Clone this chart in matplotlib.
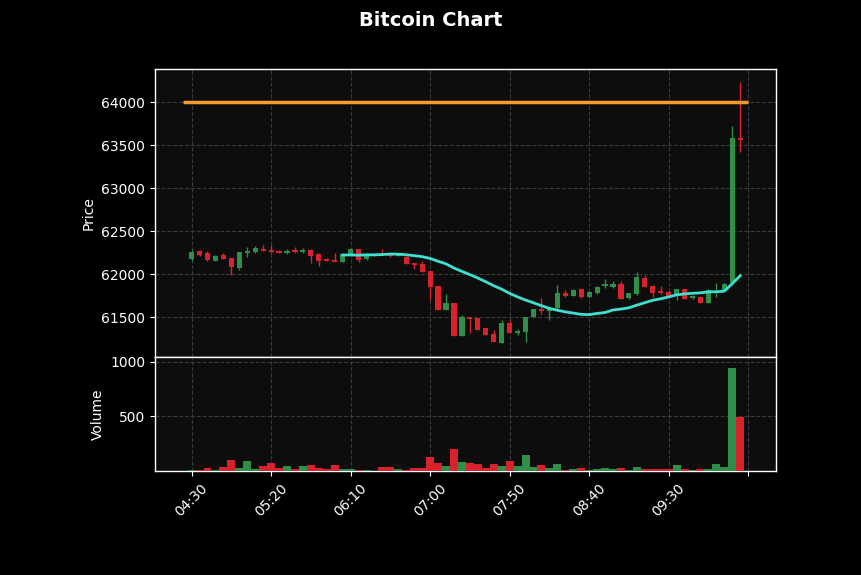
import numpy as np
import pandas as pd
import matplotlib
matplotlib.use("Agg")
import matplotlib.pyplot as plt

# ---- data ----
start_time = "2024-01-01 04:30"
opens = [62171, 62267, 62241, 62155, 62221, 62183, 62075, 62240, 62259, 62290,
         62280, 62267, 62250, 62275, 62260, 62280, 62233, 62178, 62163, 62143,
         62233, 62287, 62171, 62215, 62245, 62245, 62215, 62202, 62124, 62116,
         62035, 61860, 61581, 61667, 61279, 61500, 61484, 61368, 61302, 61202,
         61435, 61318, 61330, 61497, 61590, 61575, 61601, 61783, 61748, 61822,
         61736, 61775, 61860, 61850, 61884, 61717, 61764, 61957, 61864, 61802,
         61794, 61744, 61822, 61724, 61736, 61667, 61780, 61810, 61900, 63585]
highs = [62279, 62280, 62262, 62225, 62241, 62190, 62260, 62310, 62320, 62337,
         62337, 62275, 62290, 62310, 62300, 62290, 62240, 62185, 62248, 62240,
         62300, 62295, 62240, 62235, 62290, 62250, 62235, 62210, 62130, 62150,
         62040, 61860, 61767, 61667, 61525, 61505, 61490, 61375, 61349, 61465,
         61465, 61364, 61500, 61595, 61717, 61600, 61872, 61810, 61820, 61830,
         61800, 61860, 61945, 61920, 61920, 61780, 62020, 61990, 61870, 61860,
         61800, 61830, 61830, 61760, 61740, 61820, 61890, 61900, 63720, 64236]
lows = [62155, 62215, 62150, 62150, 62171, 61988, 62047, 62201, 62240, 62265,
        62240, 62240, 62235, 62245, 62240, 62125, 62093, 62150, 62135, 62140,
        62230, 62140, 62165, 62210, 62225, 62195, 62210, 62116, 62054, 62020,
        61698, 61581, 61581, 61279, 61275, 61310, 61349, 61291, 61214, 61195,
        61318, 61290, 61213, 61495, 61535, 61465, 61590, 61730, 61745, 61720,
        61730, 61770, 61835, 61840, 61709, 61710, 61760, 61853, 61736, 61770,
        61745, 61700, 61709, 61715, 61665, 61665, 61736, 61800, 61880, 63422]
closes = [62259, 62221, 62163, 62213, 62178, 62085, 62253, 62267, 62298, 62270,
          62256, 62248, 62265, 62255, 62285, 62213, 62155, 62155, 62140, 62233,
          62287, 62163, 62229, 62225, 62238, 62215, 62225, 62116, 62101, 62027,
          61853, 61581, 61667, 61279, 61504, 61477, 61349, 61291, 61214, 61427,
          61318, 61341, 61497, 61590, 61567, 61590, 61783, 61744, 61814, 61729,
          61794, 61853, 61880, 61880, 61709, 61776, 61969, 61853, 61783, 61775,
          61748, 61822, 61709, 61744, 61667, 61814, 61805, 61880, 63580, 63560]
volumes = [9, 12, 30, 9, 36, 100, 24, 91, 18, 45,
           70, 24, 45, 18, 45, 55, 30, 18, 55, 18,
           18, 9, 6, 3, 36, 36, 15, 9, 24, 24,
           127, 73, 45, 200, 79, 70, 60, 24, 60, 45,
           91, 45, 145, 39, 55, 24, 60, 9, 15, 24,
           9, 15, 24, 15, 24, 9, 33, 18, 18, 18,
           18, 55, 18, 9, 15, 15, 60, 36, 942, 491]
target_level = 64000
mav_period = 20
price_ticks = [61500, 62000, 62500, 63000, 63500, 64000]
volume_ticks = [500, 1000]

# ---- derived ----
times = pd.date_range(start_time, periods=len(opens), freq="5min")
n = len(opens)
x = np.arange(n)
o = np.array(opens, float); h = np.array(highs, float)
l = np.array(lows, float); c = np.array(closes, float)
v = np.array(volumes, float)
mav = pd.Series(c).rolling(mav_period).mean().values

UP = "#2f8f48"
DOWN = "#d8232f"
cols = [UP if cc >= oo else DOWN for oo, cc in zip(o, c)]

fig = plt.figure(figsize=(8.62, 5.75), dpi=100, facecolor="black")
L, R = 155 / 862, 776 / 862
ax = fig.add_axes([L, 1 - 357 / 575, R - L, (357 - 69) / 575])
axv = fig.add_axes([L, 1 - 471 / 575, R - L, (471 - 357) / 575], sharex=ax)

for a in (ax, axv):
    a.set_facecolor("#0d0d0d")
    for s in a.spines.values():
        s.set_color("white")
        s.set_linewidth(1.0)
    a.tick_params(colors="white", labelcolor="white", labelsize=10)
    a.grid(True, color="#3a3a3a", linestyle="--", linewidth=0.8)
    a.set_axisbelow(True)

# candles
ax.vlines(x, l, h, colors=cols, linewidth=1.0, zorder=2)
ax.bar(x, np.maximum(np.abs(c - o), 4), bottom=np.minimum(o, c), width=0.65,
       color=cols, zorder=3)
ax.plot(x, mav, color="#40e0d0", linewidth=2.0, zorder=4)
ax.hlines(target_level, -1.1, n, colors="#f39c2b", linewidth=2.5, zorder=4)

ax.set_ylim(61035, 64384)
ax.set_yticks(price_ticks)
ax.set_ylabel("Price", color="white", fontsize=10)
ax.tick_params(axis="x", bottom=False, labelbottom=False)

# volume
axv.bar(x, v, width=1.0, color=cols, zorder=3)
axv.set_ylim(0, 1045)
axv.set_yticks(volume_ticks)
axv.set_ylabel("Volume", color="white", fontsize=10)

tick_pos = list(range(0, n + 1, 10))
tick_lab = [times[i].strftime("%H:%M") if i < n else "" for i in tick_pos]
axv.set_xticks(tick_pos)
axv.set_xticklabels(tick_lab, rotation=45, ha="center")
axv.set_xlim(-4.6, 73.5)

fig.suptitle("Bitcoin Chart", color="white", fontsize=14, fontweight="bold",
             y=1 - 21 / 575, va="center")

fig.savefig("out.png", dpi=100, facecolor="black")
